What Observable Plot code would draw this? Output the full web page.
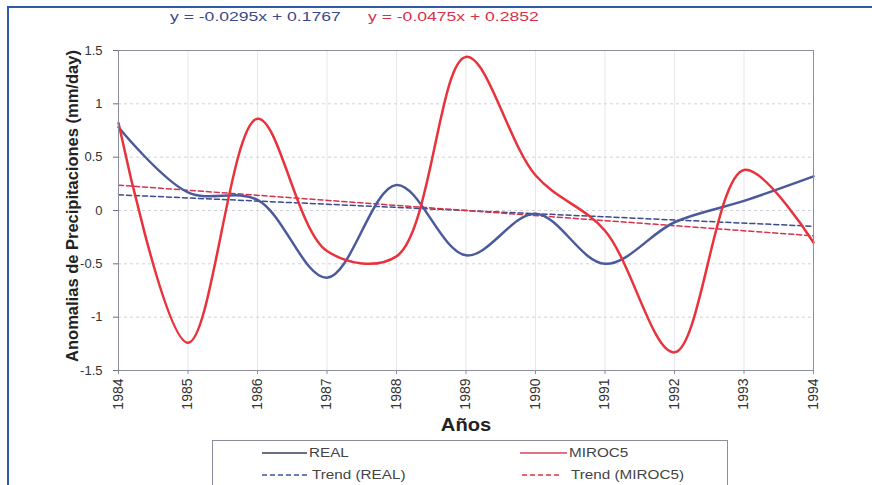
<!DOCTYPE html>
<html><head><meta charset="utf-8">
<script src="https://cdn.jsdelivr.net/npm/d3@7"></script>
<script src="https://cdn.jsdelivr.net/npm/@observablehq/plot@0.6"></script>
<style>
body{margin:0;background:#fff;font-family:Arial,"Liberation Sans",sans-serif;}
#wrap{position:relative;width:872px;height:485px;overflow:hidden;background:#fff}
#wrap > div{position:absolute}
#chart{left:0;top:0}
.eq{font-size:13.5px;top:9px;white-space:nowrap;transform:scaleX(1.3);transform-origin:0 50%}
#ylab{left:72px;top:206px;transform:translate(-50%,-50%) rotate(-90deg);font-size:16.5px;font-weight:bold;color:#222;white-space:nowrap}
#xlab{left:466px;top:425px;transform:translate(-50%,-50%) scaleX(1.15);font-size:17.5px;font-weight:bold;color:#222}
#legend{left:212px;top:440px;width:516px;height:46px;border:1px solid #8c8c9c;box-sizing:border-box;font-size:12.5px;color:#444}
.sw{position:absolute}
.lt{position:absolute;white-space:nowrap;transform:translateY(-50%) scaleX(1.22);transform-origin:0 50%}
</style></head><body>
<div id="wrap">
  <div style="left:7px;top:6px;width:2px;height:479px;background:#2f5aa8"></div>
  <div style="left:7px;top:6px;width:865px;height:2px;background:#2f5aa8"></div>
  <div id="chart"></div>
  <div class="eq" id="eq1" style="left:170px;color:#3c4a8a"></div>
  <div class="eq" id="eq2" style="left:368px;color:#d9304a"></div>
  <div id="ylab">Anomalias de Precipitaciones (mm/day)</div>
  <div id="xlab">Años</div>
  <div id="legend"></div>
</div>
<script>
const years = [1984,1985,1986,1987,1988,1989,1990,1991,1992,1993,1994];
const real  = [0.78,0.17,0.10,-0.63,0.24,-0.42,-0.03,-0.50,-0.11,0.09,0.32];
const miroc = [0.82,-1.24,0.86,-0.38,-0.43,1.44,0.33,-0.19,-1.33,0.38,-0.30];
const yTicks = [-1.5,-1,-0.5,0,0.5,1,1.5];
const trendReal  = {slope:-0.0295, intercept:0.1767};
const trendMiroc = {slope:-0.0475, intercept:0.2852};
const seriesNames = ["REAL","MIROC5","Trend (REAL)","Trend (MIROC5)"];
const colors = {real:"#4b5a9c", miroc:"#e8323c", trendReal:"#3b4a8c", trendMiroc:"#d9304a"};

const fmtEq = t => `y = ${t.slope}x + ${t.intercept}`;
document.getElementById("eq1").textContent = fmtEq(trendReal);
document.getElementById("eq2").textContent = fmtEq(trendMiroc);

const realData = years.map((y,i)=>({year:y, v:real[i]}));
const mirocData = years.map((y,i)=>({year:y, v:miroc[i]}));
const ends = [0, years.length-1];
const trendRealData = ends.map(i=>({year:years[i], v:trendReal.slope*(i+1)+trendReal.intercept}));
const trendMirocData = ends.map(i=>({year:years[i], v:trendMiroc.slope*(i+1)+trendMiroc.intercept}));

const chart = Plot.plot({
  width:872, height:420,
  marginLeft:118, marginRight:59, marginTop:50, marginBottom:50,
  style:{fontSize:"13px", fontFamily:"Arial, 'Liberation Sans', sans-serif", color:"#333", background:"transparent"},
  x:{domain:[1984,1994]},
  y:{domain:[-1.5,1.5]},
  marks:[
    Plot.gridX(years, {stroke:"#e6e6ec", strokeOpacity:1}),
    Plot.gridY(yTicks, {stroke:"#cfcfd8", strokeOpacity:1, strokeDasharray:"3,3"}),
    Plot.axisY({ticks:yTicks, tickFormat:d=>String(d), tickSize:5, tickPadding:11, fontSize:13, label:null, stroke:"#6c6c88"}),
    Plot.axisX({ticks:years, tickFormat:d=>String(d), tickRotate:-90, tickSize:4, tickPadding:4, fontSize:14, label:null, stroke:"#8c8c9c"}),
    Plot.line(trendRealData, {x:"year", y:"v", stroke:colors.trendReal, strokeWidth:1.5, strokeDasharray:"5,3"}),
    Plot.line(trendMirocData, {x:"year", y:"v", stroke:colors.trendMiroc, strokeWidth:1.5, strokeDasharray:"5,3"}),
    Plot.line(realData, {x:"year", y:"v", stroke:colors.real, strokeWidth:2.5, curve:"catmull-rom"}),
    Plot.line(mirocData, {x:"year", y:"v", stroke:colors.miroc, strokeWidth:2.5, curve:"catmull-rom"}),
    Plot.frame({stroke:"#8c8c9c"})
  ]
});
document.getElementById("chart").appendChild(chart);

const legend = document.getElementById("legend");
const NS = "http://www.w3.org/2000/svg";
const items = [
  {name:seriesNames[0], color:"#3a3f5c", dash:null, x1:49, x2:94, tx:96, y:12},
  {name:seriesNames[1], color:"#d8405e", dash:null, x1:307, x2:354, tx:356, y:12},
  {name:seriesNames[2], color:"#4252a0", dash:"5,3", x1:49, x2:94, tx:99, y:34},
  {name:seriesNames[3], color:"#e0303e", dash:"5,3", x1:309, x2:348, tx:358, y:34}
];
items.forEach(it=>{
  const svg = document.createElementNS(NS,"svg");
  svg.setAttribute("class","sw");
  svg.setAttribute("width", it.x2-it.x1);
  svg.setAttribute("height", 4);
  svg.style.left = it.x1+"px"; svg.style.top = (it.y-2)+"px";
  const ln = document.createElementNS(NS,"line");
  ln.setAttribute("x1",0); ln.setAttribute("x2",it.x2-it.x1);
  ln.setAttribute("y1",2); ln.setAttribute("y2",2);
  ln.setAttribute("stroke",it.color); ln.setAttribute("stroke-width",1.5);
  if (it.dash) ln.setAttribute("stroke-dasharray",it.dash);
  svg.appendChild(ln);
  legend.appendChild(svg);
  const t = document.createElement("div");
  t.className = "lt";
  t.style.left = it.tx+"px"; t.style.top = it.y+"px";
  t.textContent = it.name;
  legend.appendChild(t);
});
</script>
</body></html>
